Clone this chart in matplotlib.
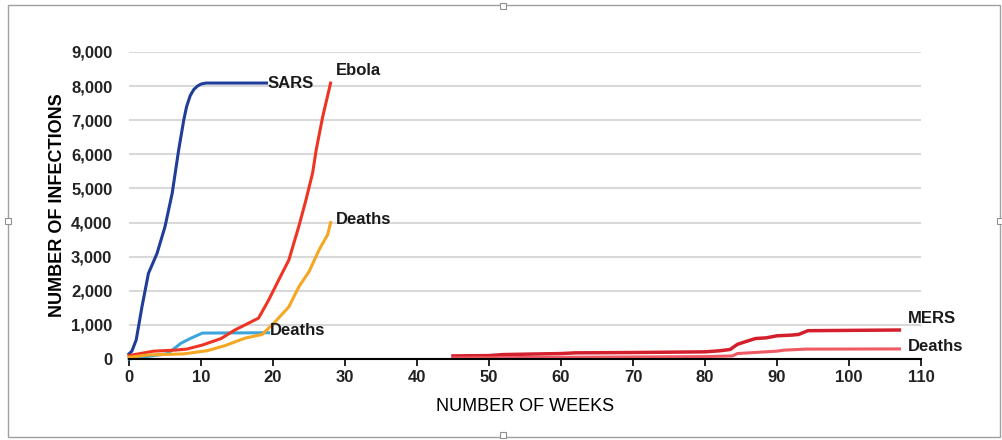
import matplotlib.pyplot as plt
import matplotlib.patches as patches

# SARS
sars_wk = [0, 0.4, 1, 1.8, 2.7, 3.9, 5, 6, 6.9, 7.6, 8, 8.5, 9, 9.5, 10, 10.7, 19.1]
sars_val = [150, 230, 560, 1530, 2510, 3100, 3880, 4860, 6130, 7000, 7400, 7720, 7900, 8000, 8060, 8090, 8090]
sars_d_wk = [0, 2, 5.2, 6, 7.2, 8.5, 10.2, 19.4]
sars_d_val = [0, 60, 150, 260, 460, 600, 760, 770]

# Ebola
ebola_wk = [0, 3.4, 6.4, 8, 10.2, 12.8, 14.7, 16.6, 18, 19.4, 20.8, 22.2, 23.6, 24.5, 25.5, 26, 26.9, 28]
ebola_val = [100, 230, 260, 290, 410, 600, 850, 1050, 1200, 1730, 2320, 2900, 3900, 4600, 5450, 6130, 7100, 8090]
ebola_d_wk = [0, 2.8, 7.6, 10.9, 13.3, 16.1, 18.5, 20.3, 22.2, 23.6, 25, 26.4, 27.6, 28]
ebola_d_val = [50, 120, 150, 245, 390, 610, 720, 1090, 1530, 2120, 2560, 3200, 3650, 4000]

# MERS
mers_wk = [45, 50, 52, 60, 62, 70, 80, 82, 83.5, 84.5, 85.5, 87, 88.5, 90, 92, 93, 94.3, 107]
mers_val = [90, 100, 130, 160, 180, 190, 210, 240, 280, 430, 500, 600, 620, 680, 700, 720, 830, 850]
mers_d_wk = [45, 60, 80, 83.8, 84.5, 90, 91, 94, 107]
mers_d_val = [30, 50, 70, 90, 160, 230, 260, 290, 295]

yticks = [0, 1000, 2000, 3000, 4000, 5000, 6000, 7000, 8000, 9000]
xticks = list(range(0, 111, 10))

plt.rcParams['font.family'] = ['Liberation Sans', 'DejaVu Sans']

fig = plt.figure(figsize=(10.03, 4.40), dpi=100)
ax = fig.add_axes([129 / 1003, 1 - 359 / 440, (921 - 129) / 1003, (359 - 52) / 440])

ax.plot(sars_wk, sars_val, color="#1f3d99", lw=2.2, clip_on=False)
ax.plot(sars_d_wk, sars_d_val, color="#3ca6dc", lw=2.2, clip_on=False)
ax.plot(ebola_wk, ebola_val, color="#ee3524", lw=2.2, clip_on=False)
ax.plot(ebola_d_wk, ebola_d_val, color="#f5a623", lw=2.2, clip_on=False)
ax.plot(mers_wk, mers_val, color="#d41f2c", lw=2.5, clip_on=False)
ax.plot(mers_d_wk, mers_d_val, color="#ef5a64", lw=2.2, clip_on=False)

lab = dict(fontsize=12, fontweight="bold", color="#1a1a1a", va="center", ha="left")
ax.text(19.3, 8080, "SARS", **lab)
ax.text(28.8, 8450, "Ebola", **lab)
ax.text(28.8, 4100, "Deaths", **lab)
ax.text(19.6, 830, "Deaths", **lab)
ax.text(108.2, 1200, "MERS", **lab)
ax.text(108.2, 370, "Deaths", **lab)

ax.set_xlim(0, 110)
ax.set_ylim(0, 9000)
ax.set_xticks(xticks)
ax.set_yticks(yticks)
ax.set_yticklabels([f"{v:,}" for v in yticks])
ax.tick_params(axis="y", length=0, pad=12, labelsize=12)
ax.tick_params(axis="x", length=5, width=1.2, direction="out", labelsize=12, pad=3)
for t in ax.get_xticklabels() + ax.get_yticklabels():
    t.set_fontweight("bold")
    t.set_color("#222222")
ax.grid(axis="y", color="#d9d9d9", lw=1.5)
ax.set_axisbelow(True)
for s in ["top", "right", "left"]:
    ax.spines[s].set_visible(False)
ax.spines["bottom"].set_linewidth(1.5)
ax.spines["bottom"].set_zorder(5)

ax.set_ylabel("NUMBER OF INFECTIONS", fontsize=13, fontweight="bold", labelpad=4)
ax.set_xlabel("NUMBER OF WEEKS", fontsize=13, labelpad=9)

# outer frame with handles
fig.patches.append(patches.Rectangle((8 / 1003, 3 / 440), 992 / 1003, 432 / 440,
                                     transform=fig.transFigure, fill=False,
                                     edgecolor="#a0a0a0", lw=1))
for hx, hy in [(503, 6), (503, 435), (8, 221), (1000, 221)]:
    fig.patches.append(patches.Rectangle(((hx - 3) / 1003, 1 - (hy + 3) / 440), 6 / 1003, 6 / 440,
                                         transform=fig.transFigure, facecolor="white",
                                         edgecolor="#909090", lw=0.8))

plt.savefig("out.png", dpi=100)
